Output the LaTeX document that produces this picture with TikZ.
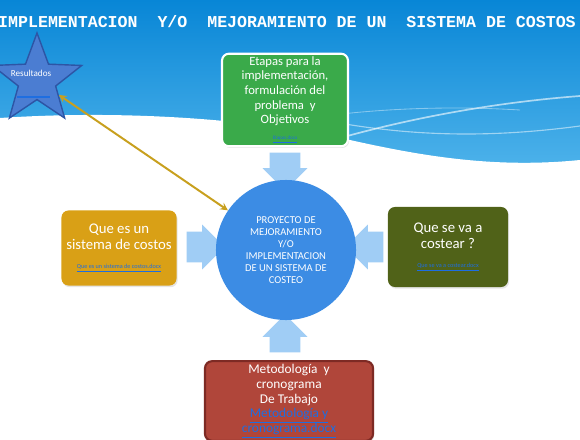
\documentclass[tikz,border=0pt]{standalone}
\usepackage{fontspec}
\setmainfont{Carlito}
\newfontfamily\titlefont{Liberation Mono}
\usetikzlibrary{shapes.geometric, shapes.arrows, shadows}

\definecolor{cieloA}{RGB}{8,134,214}
\definecolor{cieloB}{RGB}{80,180,235}
\definecolor{verde}{RGB}{58,170,74}
\definecolor{oro}{RGB}{217,160,22}
\definecolor{oliva}{RGB}{80,98,24}
\definecolor{ladrillo}{RGB}{176,70,58}
\definecolor{ladrilloosc}{RGB}{125,42,36}
\definecolor{azulcirc}{RGB}{60,140,228}
\definecolor{flechazul}{RGB}{160,205,245}
\definecolor{estrella}{RGB}{75,125,210}
\definecolor{estrellaosc}{RGB}{45,85,165}
\definecolor{enlaceazul}{RGB}{30,110,225}
\definecolor{linoro}{RGB}{200,160,30}

\begin{document}
\begin{tikzpicture}[x=0.025cm, y=-0.025cm,
  caja/.style={rounded corners=5pt, text=white, align=center, inner sep=2pt,
    drop shadow={opacity=0.2, shadow xshift=0.8pt, shadow yshift=-1.2pt}},
  flecha/.style={single arrow, fill=flechazul, draw=none, inner xsep=0pt, inner ysep=0.375cm,
    minimum height=0.95cm, single arrow head extend=0.18cm}]
\useasboundingbox (0,0) rectangle (580,440);
% fondo
\shade[top color=cieloA, bottom color=cieloB] (0,0) rectangle (580,175);
\fill[white] (0,118) .. controls (120,110) and (250,118) .. (350,140)
  .. controls (430,158) and (500,168) .. (580,160) -- (580,440) -- (0,440) -- cycle;
\draw[white, opacity=0.6, line width=1.2pt] (300,150) .. controls (400,118) and (500,102) .. (580,96);
\draw[white, opacity=0.5, line width=0.8pt] (345,124) .. controls (430,138) and (505,136) .. (580,126);
\draw[white, opacity=0.4, line width=0.6pt] (250,128) .. controls (330,112) and (420,104) .. (520,110);
% titulo
\node[text=white, font=\titlefont\bfseries\fontsize{11.8}{13}\selectfont] (titulo) at (287,22)
  {IMPLEMENTACION~~Y/O~~MEJORAMIENTO DE UN~~SISTEMA DE COSTOS};
% estrella
\node[star, star points=5, star point ratio=2.4, minimum size=2.35cm, inner sep=0pt,
  fill=estrella, draw=estrellaosc, line width=1pt] (res) at (37,80) {};
\node[text=white, font=\fontsize{6.5}{7}\selectfont] (restxt) at (31,73) {Resultados};
\draw[enlaceazul, line width=1.2pt] (17,97) -- (50,97);
% flechas
\node[flecha, rotate=-90] (f1) at (285,164) {};
\node[flecha] (f2) at (198,247) {};
\node[flecha, rotate=180] (f3) at (372,247) {};
\node[flecha, rotate=90] (f4) at (285,341) {};
% centro
\node[circle, fill=azulcirc, minimum size=3.5cm, text=white, align=center,
  font=\fontsize{7.5}{8.6}\selectfont] (proy) at (286,250)
  {PROYECTO DE\\MEJORAMIENTO\\Y/O\\IMPLEMENTACION\\DE UN SISTEMA DE\\COSTEO};
% cajas
\node[caja, fill=verde, draw=white, line width=1.5pt, minimum width=3.15cm, minimum height=2.15cm,
  font=\fontsize{9}{10.4}\selectfont] (etapas) at (285,100)
  {Etapas para la\\implementación,\\formulación del\\problema~~y\\Objetivos\\[1pt]
   {\fontsize{3.6}{4}\selectfont\color{enlaceazul}\underline{Etapas.docx}}};
\node[caja, fill=oro, minimum width=2.875cm, minimum height=1.875cm,
  font=\fontsize{10.5}{11.4}\selectfont] (quees) at (119,248)
  {Que es un\\sistema de costos\\[2pt]
   {\fontsize{4.4}{5}\selectfont\color{enlaceazul}\underline{Que es un sistema de costos.docx}}};
\node[caja, fill=oliva, minimum width=3cm, minimum height=2cm,
  font=\fontsize{10.5}{11.4}\selectfont] (costear) at (448,247)
  {Que se va a\\costear ?\\[2pt]
   {\fontsize{4.4}{5}\selectfont\color{enlaceazul}\underline{Que se va a costear.docx}}};
\node[caja, fill=ladrillo, draw=ladrilloosc, line width=1.5pt, minimum width=4.2cm, minimum height=1.95cm,
  font=\fontsize{9.5}{10.6}\selectfont] (metodo) at (289,401)
  {Metodología~~y\\cronograma\\De Trabajo\\
   {\color{enlaceazul}\underline{Metodología y}}\\
   {\color{enlaceazul}\underline{cronograma.docx}}};
% enlace estrella - centro
\draw[linoro, line width=1.4pt, <->, >=stealth] (res) -- (proy);
\end{tikzpicture}
\end{document}
